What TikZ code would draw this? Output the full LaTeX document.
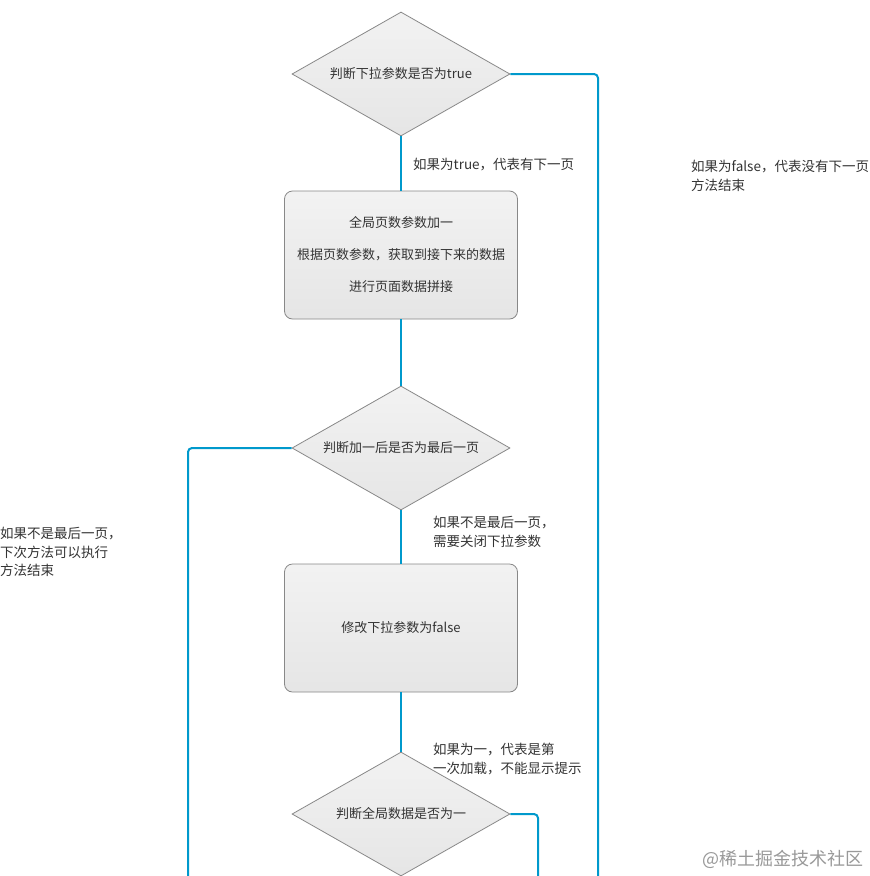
\documentclass[tikz,border=0pt]{standalone}
\usepackage{fontspec}
\setmainfont{Noto Sans CJK SC}
\usetikzlibrary{shapes.geometric}
\definecolor{flow}{RGB}{0,153,204}
\definecolor{txt}{RGB}{51,51,51}
\definecolor{edge}{RGB}{136,136,136}
\tikzset{
  decision/.style={diamond,shape aspect=1.76,draw=edge,line width=0.8pt,top color=black!5,bottom color=black!10,
    minimum width=218pt,minimum height=124pt,inner sep=0pt,text=txt,font=\fontsize{13}{15}\selectfont},
  process/.style={rectangle,rounded corners=8pt,draw=edge,line width=0.8pt,top color=black!5,bottom color=black!10,
    minimum width=233pt,minimum height=128pt,inner sep=0pt,text=txt,align=center,font=\fontsize{13}{15}\selectfont},
  link/.style={draw=flow,line width=2pt,rounded corners=4pt},
  note/.style={anchor=north west,inner sep=0pt,text=txt,align=left,font=\fontsize{13.5}{18.5}\selectfont},
}
\begin{document}
\begin{tikzpicture}[x=1pt,y=-1pt]
\useasboundingbox (0,0) rectangle (870,876);
\clip (0,0) rectangle (870,876);
\fill[white] (0,0) rectangle (870,876);
\node[decision] (d1) at (401,74) {判断下拉参数是否为true};
\node[process] (p1) at (401,255) {全局页数参数加一\\[17pt]根据页数参数，获取到接下来的数据\\[17pt]进行页面数据拼接};
\node[decision] (d2) at (401,448) {判断加一后是否为最后一页};
\node[process] (p2) at (401,628) {修改下拉参数为false};
\node[decision] (d3) at (401,814) {判断全局数据是否为一};
\coordinate (e1) at (598,890);
\coordinate (e2) at (188,890);
\coordinate (e3) at (538,890);
\draw[link] (d1.south) -- (p1.north);
\draw[link] (p1.south) -- (d2.north);
\draw[link] (d2.south) -- (p2.north);
\draw[link] (p2.south) -- (d3.north);
\draw[link] (d1.east) -| (e1);
\draw[link] (d2.west) -| (e2);
\draw[link] (d3.east) -| (e3);
\node[note] (l1) at (413,158) {如果为true，代表有下一页};
\node[note] (l2) at (691,160) {如果为false，代表没有下一页\\方法结束};
\node[note] (l3) at (0,527) {如果不是最后一页，\\下次方法可以执行\\方法结束};
\node[note] (l4) at (433,516) {如果不是最后一页，\\需要关闭下拉参数};
\node[note] (l5) at (433,743) {如果为一，代表是第\\一次加载，不能显示提示};
\node[anchor=east,inner sep=0pt,text=black!40,font=\fontsize{18}{20}\selectfont] (wm) at (864,859) {@稀土掘金技术社区};
\end{tikzpicture}
\end{document}
